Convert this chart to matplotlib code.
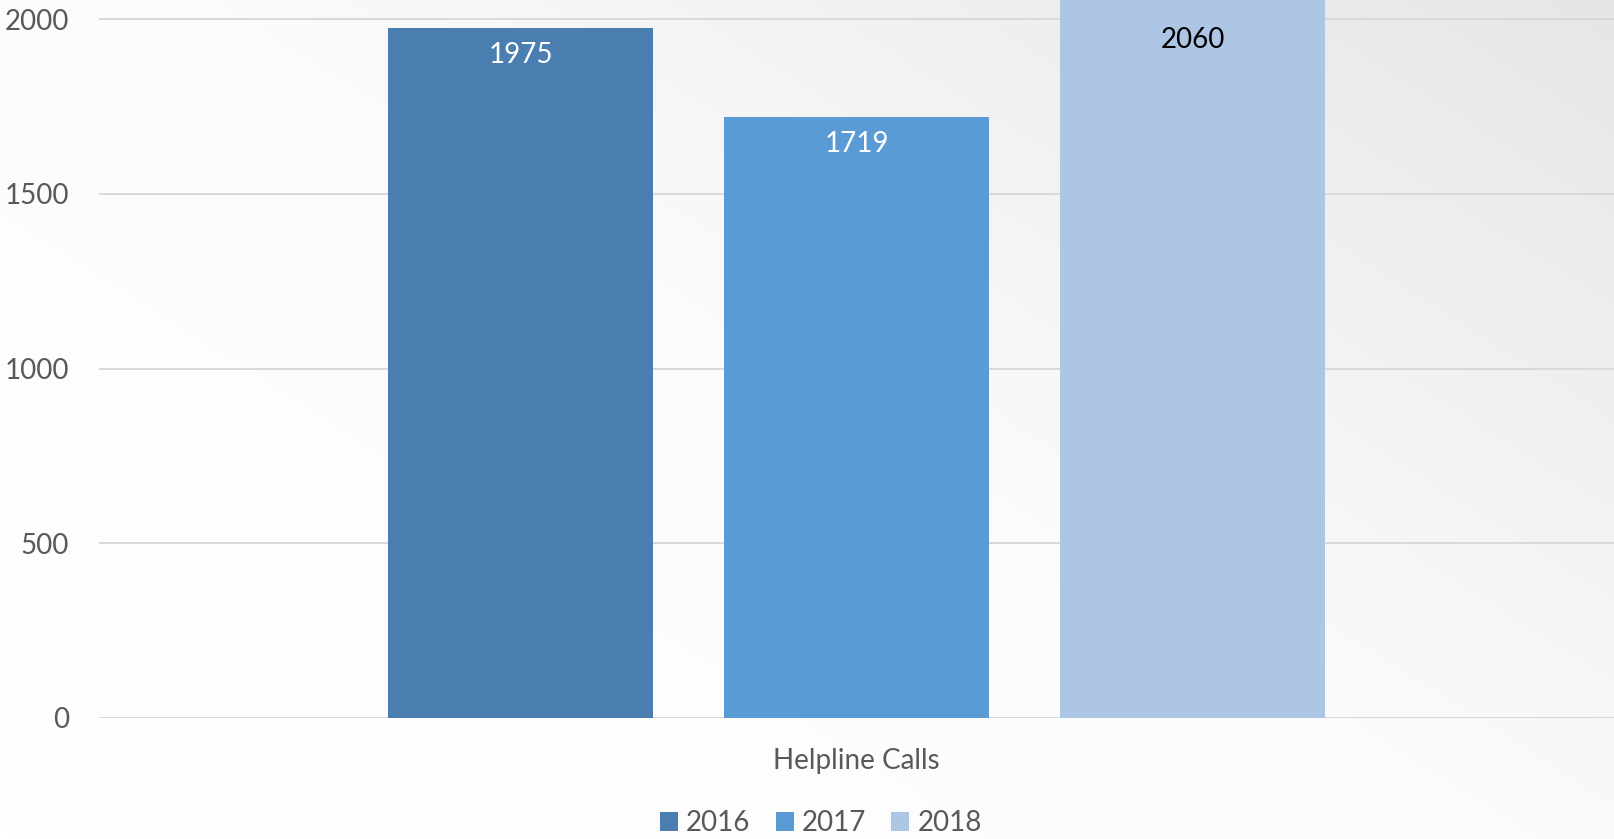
import numpy as np
import matplotlib
matplotlib.use("Agg")
import matplotlib.pyplot as plt
from matplotlib.patches import Patch
from matplotlib.colors import LinearSegmentedColormap

category = "Helpline Calls"
years = ["2016", "2017", "2018"]
values = [1975, 1719, 2060]
yticks = [0, 500, 1000, 1500, 2000]

colors = ["#4a7eb0", "#5b9bd5", "#adc6e6"]
label_colors = ["white", "white", "black"]
label_offsets_px = [-27, -27, -40]

plt.rcParams['font.family'] = ['Lato', 'DejaVu Sans']

W, H, DPI = 1614, 839, 100
fig = plt.figure(figsize=(W / DPI, H / DPI), dpi=DPI)

# gradient background
bg = fig.add_axes([0, 0, 1, 1], zorder=-10)
yy, xx = np.mgrid[0:1:200j, 0:1:400j]
g = (xx * 0.55 + yy * 0.45)
cmap = LinearSegmentedColormap.from_list("bg", ["#ffffff", "#fcfcfc", "#e6e6e6"])
bg.imshow(g, cmap=cmap, origin="lower", extent=[0, 1, 0, 1], aspect="auto", vmin=0, vmax=1)
bg.set_axis_off()

left = 99 / W
bottom = 1 - 718 / H
ax = fig.add_axes([left, bottom, 1 - left, 1 - bottom])
ax.set_facecolor("none")

x = np.arange(len(values)) - (len(values) - 1) / 2
width = 265 / 336
bars = ax.bar(x, values, width=width, color=colors, zorder=3)

ymax = 2000 * 718 / (718 - 19)
ax.set_ylim(0, ymax)
half = (W - 99) / 336 / 2
ax.set_xlim(-half, half)

ax.set_yticks(yticks)
ax.set_yticklabels([str(t) for t in yticks])
ax.set_xticks([0])
ax.set_xticklabels([category])
ax.tick_params(axis="y", length=0, pad=21.6, labelsize=20, labelcolor="#595959")
ax.tick_params(axis="x", length=0, pad=21.5, labelsize=20, labelcolor="#595959")
for s in ax.spines.values():
    s.set_visible(False)
ax.yaxis.grid(True, color="#d9d9d9", linewidth=1.4, zorder=0)
ax.set_axisbelow(True)

for xi, v, c, off in zip(x, values, label_colors, label_offsets_px):
    ytop = min(v, ymax)
    ax.annotate(str(v), xy=(xi, ytop), xytext=(0, off * 72 / DPI), textcoords="offset points",
                ha="center", va="center", fontsize=20, color=c, zorder=5)

handles = [Patch(facecolor=c, edgecolor="none", label=y) for c, y in zip(colors, years)]
fig.legend(handles=handles, loc="center", bbox_to_anchor=(821 / W, 1 - 823 / H), ncol=3,
           frameon=False, fontsize=20, labelcolor="#595959", handlelength=0.65, handleheight=0.65,
           handletextpad=0.3, columnspacing=0.9, borderpad=0)

fig.savefig("out.png", dpi=DPI)
